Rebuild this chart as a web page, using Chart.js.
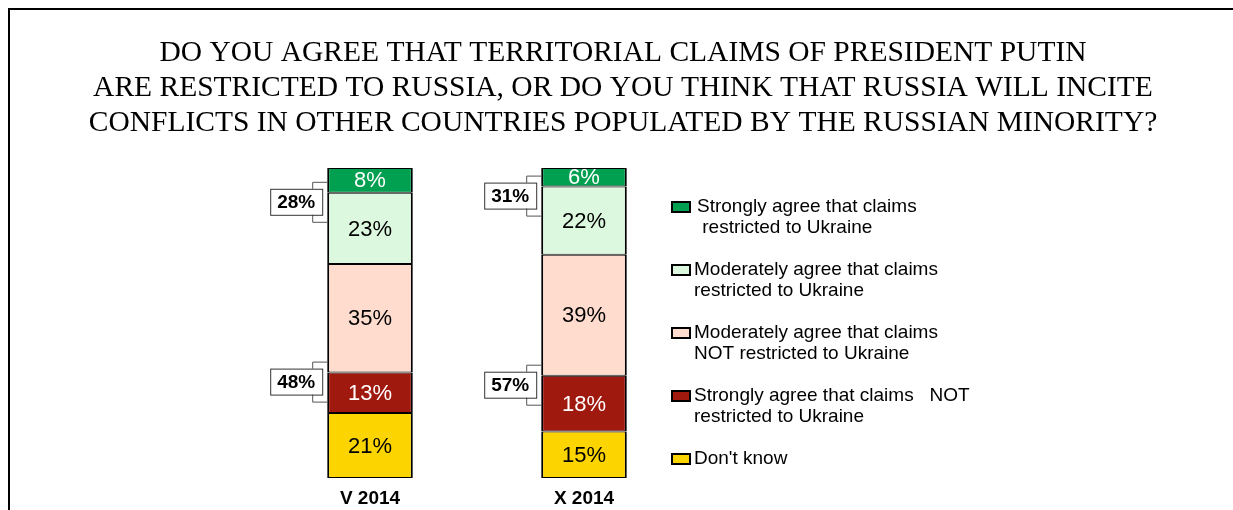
<!DOCTYPE html>
<html>
<head>
<meta charset="utf-8">
<title>Territorial claims of President Putin</title>
<script src="https://cdn.jsdelivr.net/npm/chart.js@4"></script>
<style>
  html, body { margin: 0; padding: 0; background: #fff; }
  #survey-chart { display: block; }
</style>
</head>
<body>
<canvas id="survey-chart" width="1233" height="510"></canvas>
<script>
// Survey waves
const categories = ['V 2014', 'X 2014'];

// Answers, bottom of the stack first
const dontKnow = [21, 15];
const stronglyNot = [13, 18];
const moderatelyNot = [35, 39];
const moderatelyRestricted = [23, 22];
const stronglyRestricted = [8, 6];

// Totals shown in the bracket boxes
const restrictedTotals = [28, 31];
const notRestrictedTotals = [48, 57];

const titleLines = [
  'DO YOU AGREE THAT TERRITORIAL CLAIMS OF PRESIDENT PUTIN',
  'ARE RESTRICTED TO RUSSIA, OR DO YOU THINK THAT RUSSIA WILL INCITE',
  'CONFLICTS IN OTHER COUNTRIES POPULATED BY THE RUSSIAN MINORITY?'
];

const SANS = '"Liberation Sans", Arial, sans-serif';
const SERIF = '"Liberation Serif", "Times New Roman", serif';

function makeDataset(label, data, color, textColor) {
  return {
    label: label,
    data: data,
    backgroundColor: color,
    borderColor: '#000',
    borderWidth: {top: 1, bottom: 1, left: 2, right: 2},
    borderSkipped: false,
    textColor: textColor
  };
}

const datasets = [
  makeDataset("Don't know", dontKnow, '#FCD400', '#000'),
  makeDataset('Strongly agree that claims   NOT\nrestricted to Ukraine', stronglyNot, '#A0190F', '#fff'),
  makeDataset('Moderately agree that claims\nNOT restricted to Ukraine', moderatelyNot, '#FFDCCD', '#000'),
  makeDataset('Moderately agree that claims\nrestricted to Ukraine', moderatelyRestricted, '#DCF8DE', '#000'),
  makeDataset('Strongly agree that claims\n restricted to Ukraine', stronglyRestricted, '#00A050', '#fff')
];

// Frame, title, legend, labels and brackets
const decorations = {
  id: 'decorations',
  afterDatasetsDraw(chart) {
    const ctx = chart.ctx;
    ctx.save();

    // frame (only top and left sides are in view)
    ctx.strokeStyle = '#000';
    ctx.lineWidth = 2;
    ctx.beginPath();
    ctx.moveTo(1240, 9);
    ctx.lineTo(9, 9);
    ctx.lineTo(9, 520);
    ctx.stroke();

    // title
    ctx.fillStyle = '#000';
    ctx.textAlign = 'center';
    ctx.textBaseline = 'middle';
    ctx.font = '29.5px ' + SERIF;
    titleLines.forEach((line, i) => ctx.fillText(line, 623, 53 + i * 35));

    // value labels in the segments
    ctx.font = '22px ' + SANS;
    chart.data.datasets.forEach((ds, di) => {
      const meta = chart.getDatasetMeta(di);
      meta.data.forEach((bar, i) => {
        ctx.fillStyle = ds.textColor;
        ctx.fillText(ds.data[i] + '%', bar.x, (bar.y + bar.base) / 2 + 1);
      });
    });

    // category labels
    ctx.fillStyle = '#000';
    ctx.font = 'bold 19px ' + SANS;
    const xScale = chart.scales.x;
    categories.forEach((c, i) => ctx.fillText(c, xScale.getPixelForValue(i), 499));

    // brackets with totals
    const yScale = chart.scales.y;
    const drawBracket = (i, boundary, total) => {
      const bar = chart.getDatasetMeta(0).data[i];
      const left = bar.x - bar.width / 2;
      const by = yScale.getPixelForValue(boundary);
      const top = by - 11;
      const bottom = by + 29;
      const vx = left - 15;
      ctx.strokeStyle = '#555';
      ctx.lineWidth = 1;
      ctx.beginPath();
      ctx.moveTo(left, top + 0.5);
      ctx.lineTo(vx + 0.5, top + 0.5);
      ctx.lineTo(vx + 0.5, bottom + 0.5);
      ctx.lineTo(left, bottom + 0.5);
      ctx.stroke();
      const bw = 52, bh = 26;
      const bx = left - 5 - bw;
      const bcy = by + 9;
      ctx.fillStyle = '#fff';
      ctx.fillRect(bx, bcy - bh / 2, bw, bh);
      ctx.strokeStyle = '#333';
      ctx.strokeRect(bx + 0.5, bcy - bh / 2 + 0.5, bw, bh);
      ctx.fillStyle = '#000';
      ctx.font = 'bold 19px ' + SANS;
      ctx.fillText(total + '%', bx + bw / 2, bcy + 1);
    };
    categories.forEach((c, i) => {
      const restrictedBoundary = 100 - stronglyRestricted[i];
      const notBoundary = dontKnow[i] + stronglyNot[i];
      drawBracket(i, restrictedBoundary, restrictedTotals[i]);
      drawBracket(i, notBoundary, notRestrictedTotals[i]);
    });

    // legend, top of the stack first
    ctx.textAlign = 'left';
    ctx.font = '19px ' + SANS;
    const items = chart.data.datasets.slice().reverse();
    items.forEach((ds, i) => {
      const y = 207 + i * 63;
      ctx.fillStyle = ds.backgroundColor;
      ctx.fillRect(672, y - 5, 18, 10);
      ctx.strokeStyle = '#000';
      ctx.lineWidth = 2;
      ctx.strokeRect(672, y - 5, 18, 10);
      ctx.fillStyle = '#000';
      ds.label.split('\n').forEach((line, li) => {
        ctx.fillText(line, i == 0 ? 697 : 694, y + li * 21);
      });
    });

    ctx.restore();
  }
};

const ctx = document.getElementById('survey-chart');
new Chart(ctx, {
  type: 'bar',
  data: {
    labels: categories,
    datasets: datasets
  },
  options: {
    responsive: false,
    animation: false,
    events: [],
    layout: {
      padding: {left: 263, right: 542, top: 168, bottom: 32}
    },
    datasets: {
      bar: {categoryPercentage: 1, barPercentage: 0.4}
    },
    scales: {
      x: {stacked: true, display: false},
      y: {stacked: true, display: false, min: 0, max: 100}
    },
    plugins: {
      legend: {display: false},
      tooltip: {enabled: false},
      title: {display: false}
    }
  },
  plugins: [decorations]
});
</script>
</body>
</html>
